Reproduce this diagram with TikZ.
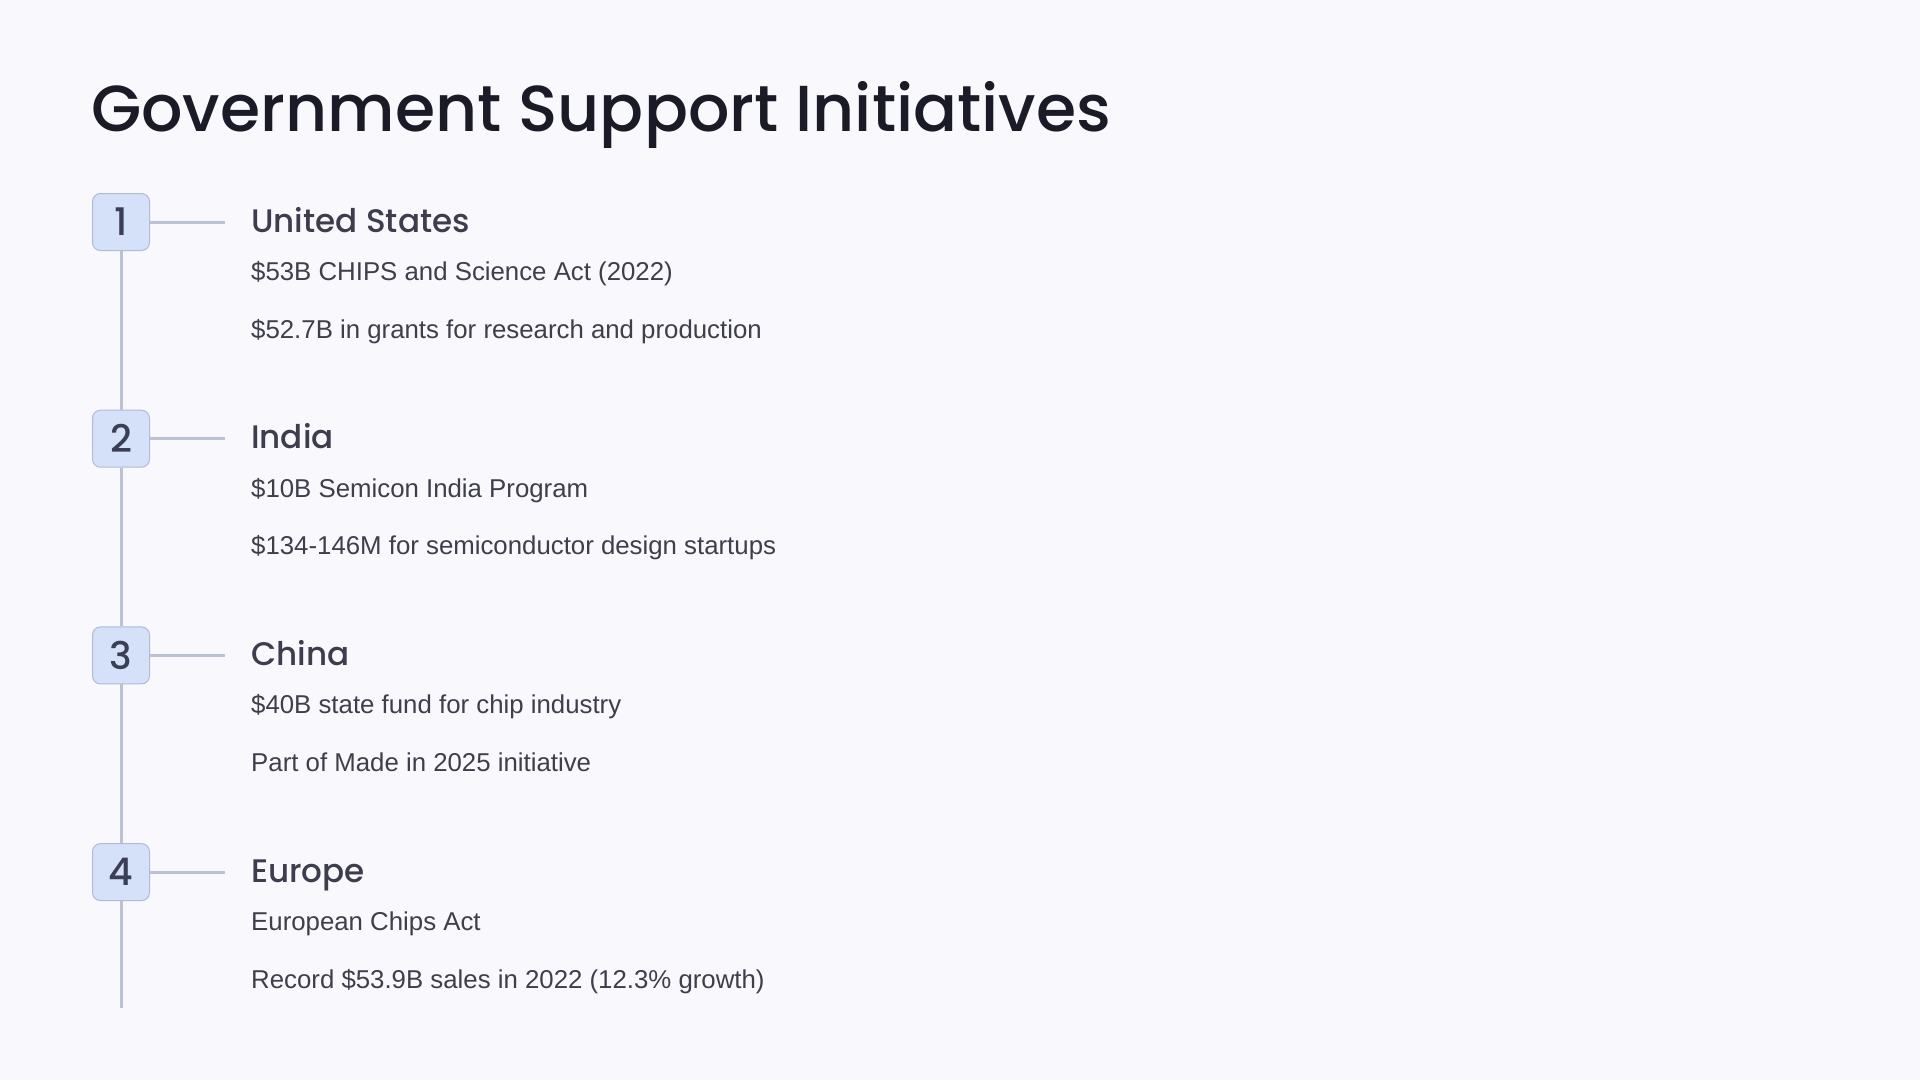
\documentclass[tikz,border=0pt]{standalone}
\usepackage{fontspec}
\setmainfont{Liberation Sans}
\newfontfamily\headfont{Poppins Medium}
\usetikzlibrary{positioning}
\definecolor{bgcol}{HTML}{F8F8FD}
\definecolor{titlecol}{HTML}{1B1B27}
\definecolor{headcol}{HTML}{3D3D4E}
\definecolor{bodycol}{HTML}{3F3F4B}
\definecolor{numcol}{HTML}{3A3F55}
\definecolor{boxfill}{HTML}{D5E0F9}
\definecolor{boxline}{HTML}{AFBBD8}
\definecolor{railcol}{HTML}{BAC2D4}

\begin{document}
\begin{tikzpicture}[node distance=158.7pt,
    numbox/.style={draw=boxline, fill=boxfill, rounded corners=8pt, line width=1pt, minimum size=57pt, inner sep=0pt, text=numcol, font=\headfont\fontsize{38}{38}\selectfont},
    country/.style={inner sep=0pt, text=headcol, font=\headfont\fontsize{32.6}{33}\selectfont},
    detail/.style={inner sep=0pt, text=bodycol, font=\fontsize{25.8}{26}\selectfont},
    rail/.style={draw=railcol, line width=3pt}]
    \fill[bgcol] (0,0) rectangle (1920pt,-1080pt);
    \useasboundingbox (0,0) rectangle (1920pt,-1080pt);

    \node (title) [anchor=base west, inner sep=0pt, text=titlecol, font=\headfont\fontsize{65}{65}\selectfont] at (91pt,-131pt) {Government Support Initiatives};

    % number boxes
    \node (n1) [numbox] at (121pt,-222pt) {1};
    \node (n2) [numbox, below=of n1] {2};
    \node (n3) [numbox, below=of n2] {3};
    \node (n4) [numbox, below=of n3] {4};
    \coordinate (railend) at (121pt,-1008pt);

    % countries
    \node (h1) [country, right=101pt of n1.east, anchor=base west, yshift=-10pt] {United States};
    \node (d1a) [detail, below=48.5pt of h1.base west, anchor=base west] {\$53B CHIPS and Science Act (2022)};
    \node (d1b) [detail, below=57.5pt of d1a.base west, anchor=base west] {\$52.7B in grants for research and production};

    \node (h2) [country, right=101pt of n2.east, anchor=base west, yshift=-10pt] {India};
    \node (d2a) [detail, below=48.5pt of h2.base west, anchor=base west] {\$10B Semicon India Program};
    \node (d2b) [detail, below=57.5pt of d2a.base west, anchor=base west] {\$134-146M for semiconductor design startups};

    \node (h3) [country, right=101pt of n3.east, anchor=base west, yshift=-10pt] {China};
    \node (d3a) [detail, below=48.5pt of h3.base west, anchor=base west] {\$40B state fund for chip industry};
    \node (d3b) [detail, below=57.5pt of d3a.base west, anchor=base west] {Part of Made in 2025 initiative};

    \node (h4) [country, right=101pt of n4.east, anchor=base west, yshift=-10pt] {Europe};
    \node (d4a) [detail, below=48.5pt of h4.base west, anchor=base west] {European Chips Act};
    \node (d4b) [detail, below=57.5pt of d4a.base west, anchor=base west] {Record \$53.9B sales in 2022 (12.3\% growth)};

    % stubs
    \coordinate [right=75pt of n1.east] (s1);
    \coordinate [right=75pt of n2.east] (s2);
    \coordinate [right=75pt of n3.east] (s3);
    \coordinate [right=75pt of n4.east] (s4);
    \draw[rail] (n1) -- (s1);
    \draw[rail] (n2) -- (s2);
    \draw[rail] (n3) -- (s3);
    \draw[rail] (n4) -- (s4);

    % timeline
    \draw[rail] (n1) -- (n2);
    \draw[rail] (n2) -- (n3);
    \draw[rail] (n3) -- (n4);
    \draw[rail] (n4) -- (railend);
\end{tikzpicture}
\end{document}
